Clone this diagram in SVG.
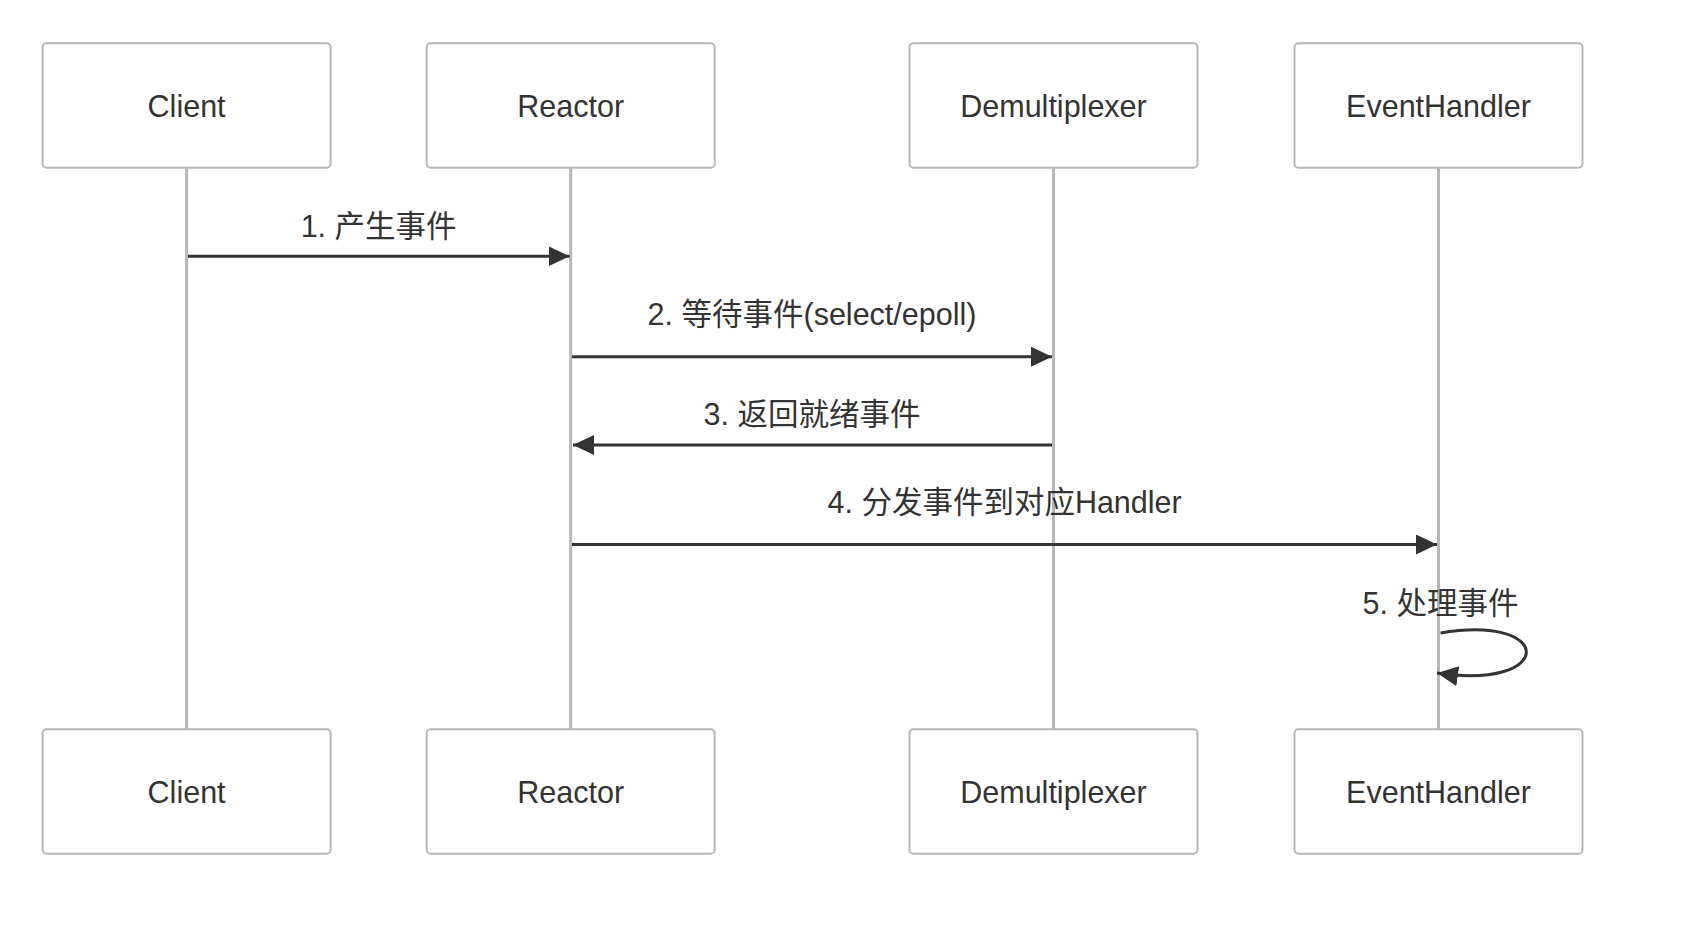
<svg xmlns="http://www.w3.org/2000/svg" width="1694" height="930" viewBox="0 0 1694 930">
<style>
.actor rect{fill:#fff;stroke:#b7b7b7;stroke-width:2}
.actor text{font-family:"Liberation Sans","Noto Sans CJK SC",Arial,sans-serif;font-size:30.5px;fill:#333;text-anchor:middle}
.life{stroke:#b7b7b7;stroke-width:3;fill:none}
.msg{stroke:#333;stroke-width:3;fill:none}
.lbl{font-family:"Liberation Sans","Noto Sans CJK SC",Arial,sans-serif;font-size:30.5px;fill:#333;text-anchor:middle}
</style>
<defs>
<marker id="ah" markerUnits="userSpaceOnUse" markerWidth="24" markerHeight="24" refX="21" refY="10" orient="auto">
<path d="M0,0 L21,10 L0,20 z" fill="#333"/>
</marker>
</defs>
<rect width="1694" height="930" fill="#fff"/>
<g id="lifelines">
<line class="life" x1="186.6" y1="168" x2="186.6" y2="729"/>
<line class="life" x1="570.7" y1="168" x2="570.7" y2="729"/>
<line class="life" x1="1053.5" y1="168" x2="1053.5" y2="729"/>
<line class="life" x1="1438.5" y1="168" x2="1438.5" y2="729"/>
</g>
<g id="client-top" class="actor"><rect x="42.6" y="43.3" width="288" height="124.5" rx="4"/><text x="186.6" y="116.5">Client</text></g>
<g id="reactor-top" class="actor"><rect x="426.7" y="43.3" width="288" height="124.5" rx="4"/><text x="570.7" y="116.5">Reactor</text></g>
<g id="demux-top" class="actor"><rect x="909.5" y="43.3" width="288" height="124.5" rx="4"/><text x="1053.5" y="116.5">Demultiplexer</text></g>
<g id="handler-top" class="actor"><rect x="1294.5" y="43.3" width="288" height="124.5" rx="4"/><text x="1438.5" y="116.5">EventHandler</text></g>
<g id="client-bottom" class="actor"><rect x="42.6" y="729.3" width="288" height="124.5" rx="4"/><text x="186.6" y="802.7">Client</text></g>
<g id="reactor-bottom" class="actor"><rect x="426.7" y="729.3" width="288" height="124.5" rx="4"/><text x="570.7" y="802.7">Reactor</text></g>
<g id="demux-bottom" class="actor"><rect x="909.5" y="729.3" width="288" height="124.5" rx="4"/><text x="1053.5" y="802.7">Demultiplexer</text></g>
<g id="handler-bottom" class="actor"><rect x="1294.5" y="729.3" width="288" height="124.5" rx="4"/><text x="1438.5" y="802.7">EventHandler</text></g>
<g id="connectors">
<line class="msg" x1="188" y1="256.3" x2="569.6" y2="256.3" marker-end="url(#ah)"/>
<text class="lbl" x="378.6" y="237.3">1. 产生事件</text>
<line class="msg" x1="572" y1="356.7" x2="1052" y2="356.7" marker-end="url(#ah)"/>
<text class="lbl" x="812" y="325">2. 等待事件(select/epoll)</text>
<line class="msg" x1="1052" y1="445" x2="573" y2="445" marker-end="url(#ah)"/>
<text class="lbl" x="812" y="425">3. 返回就绪事件</text>
<line class="msg" x1="572" y1="544.5" x2="1437" y2="544.5" marker-end="url(#ah)"/>
<text class="lbl" x="1004.6" y="513.3">4. 分发事件到对应Handler</text>
<path class="msg" d="M1440.5,633 C1555.5,613.8 1555.5,690.6 1437,673" marker-end="url(#ah)"/>
<text class="lbl" x="1440.5" y="614">5. 处理事件</text>
</g>
</svg>
